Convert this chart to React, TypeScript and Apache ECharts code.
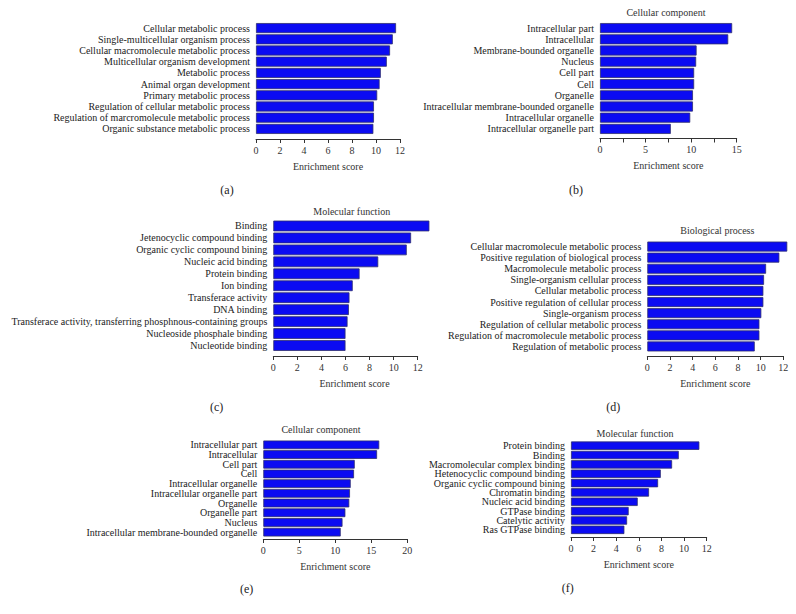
import React, { useEffect, useRef } from "react";
import * as echarts from "echarts";

// ---------- data ----------
const catsA = [
  "Cellular metabolic process",
  "Single-multicellular organism process",
  "Cellular macromolecule metabolic process",
  "Multicellular organism development",
  "Metabolic process",
  "Animal organ development",
  "Primary metabolic process",
  "Regulation of cellular metabolic process",
  "Regulation of marcromolecule metabolic process",
  "Organic substance metabolic process",
];
const valsA = [11.67, 11.4, 11.17, 10.9, 10.4, 10.3, 10.1, 9.83, 9.83, 9.78];

const catsB = [
  "Intracellular part",
  "Intracellular",
  "Membrane-bounded organelle",
  "Nucleus",
  "Cell part",
  "Cell",
  "Organelle",
  "Intracellular membrane-bounded organelle",
  "Intracellular organelle",
  "Intracellular organelle part",
];
const valsB = [14.5, 14.07, 10.6, 10.55, 10.33, 10.33, 10.2, 10.2, 9.9, 7.77];

const catsC = [
  "Binding",
  "Jetenocyclic compound binding",
  "Organic cyclic compound bining",
  "Nucleic acid binding",
  "Protein binding",
  "Ion binding",
  "Transferace activity",
  "DNA binding",
  "Transferace activity, transferring phosphnous-containing groups",
  "Nucleoside phosphale binding",
  "Nucleotide binding",
];
const valsC = [12.97, 11.45, 11.09, 8.72, 7.17, 6.6, 6.33, 6.28, 6.17, 6.0, 6.0];

const catsD = [
  "Cellular macromolecule metabolic process",
  "Positive regulation of biological process",
  "Macromolecule metabolic process",
  "Single-organism cellular process",
  "Cellular metabolic process",
  "Positive regulation of cellular process",
  "Single-organism process",
  "Regulation of cellular metabolic process",
  "Regulation of macromolecule metabolic process",
  "Regulation of metabolic process",
];
const valsD = [12.35, 11.65, 10.48, 10.3, 10.24, 10.24, 10.06, 9.89, 9.89, 9.48];

const catsE = [
  "Intracellular part",
  "Intracellular",
  "Cell part",
  "Cell",
  "Intracellular organelle",
  "Intracellular organelle part",
  "Organelle",
  "Organelle part",
  "Nucleus",
  "Intracellular membrane-bounded organelle",
];
const valsE = [16.1, 15.8, 12.7, 12.6, 12.14, 12.04, 11.94, 11.4, 11.0, 10.75];

const catsF = [
  "Protein binding",
  "Binding",
  "Macromolecular complex binding",
  "Hetenocyclic compound binding",
  "Organic cyclic compound bining",
  "Chromatin binding",
  "Nucleic acid binding",
  "GTPase binding",
  "Catelytic activity",
  "Ras GTPase binding",
];
const valsF = [11.35, 9.53, 8.94, 7.94, 7.7, 6.9, 5.9, 5.1, 4.96, 4.72];

const titles = ["", "Cellular component", "Molecular function", "Biological process", "Cellular component", "Molecular function"];
const letters = ["(a)", "(b)", "(c)", "(d)", "(e)", "(f)"];
const axisMax = [12, 15, 12, 12, 20, 12];
const axisInterval = [2, 2.5, 2, 2, 5, 2];
const labelStep = [2, 5, 2, 2, 5, 2];
const axisTitle = "Enrichment score";

// ---------- layout ----------
const FONT = "Liberation Serif";
const layout = [
  { left: 256, width: 144, top: 22.5, height: 112, offset: 4.5, titleX: 0, titleY: 0, letterX: 227, letterY: 190, namePad: 0 },
  { left: 600, width: 136.7, top: 22.5, height: 112, offset: 4, titleX: 666, titleY: 12, letterX: 576, letterY: 190, namePad: 0 },
  { left: 273.3, width: 144.4, top: 220, height: 131.5, offset: 4.5, titleX: 351.7, titleY: 211, letterX: 216.7, letterY: 407, namePad: 18 },
  { left: 647.3, width: 136, top: 241, height: 111, offset: 4, titleX: 717.3, titleY: 230.7, letterX: 613.3, letterY: 407, namePad: 0 },
  { left: 263.3, width: 144, top: 440, height: 97, offset: 2, titleX: 321, titleY: 429, letterX: 246.7, letterY: 589, namePad: 0 },
  { left: 571, width: 135.7, top: 441, height: 93.5, offset: 2.5, titleX: 635, titleY: 433, letterX: 567.7, letterY: 588, namePad: 0 },
];

export default function App() {
  const ref = useRef<HTMLDivElement>(null);
  useEffect(() => {
    if (!ref.current) return;
    const chart = echarts.init(ref.current, null, { renderer: "svg" });
    const cats = [catsA, catsB, catsC, catsD, catsE, catsF];
    const vals = [valsA, valsB, valsC, valsD, valsE, valsF];

    const grid = layout.map((l) => ({ left: l.left, top: l.top, width: l.width, height: l.height, containLabel: false }));
    const xAxis = layout.map((l, i) => ({
      type: "value",
      gridIndex: i,
      min: 0,
      max: axisMax[i],
      interval: axisInterval[i],
      offset: l.offset,
      axisLine: { show: true, lineStyle: { color: "#333", width: 1 } },
      axisTick: { show: true, length: 4, lineStyle: { color: "#333" } },
      splitLine: { show: false },
      axisLabel: {
        color: "#333",
        fontSize: 10,
        fontFamily: FONT,
        margin: 6,
        formatter: (v: number) => (Math.abs(v % labelStep[i]) < 1e-6 ? String(v) : ""),
      },
      name: axisTitle,
      nameLocation: "middle",
      nameGap: 22,
      nameTextStyle: { color: "#333", fontSize: 10, fontFamily: FONT, padding: [0, 0, 0, l.namePad] },
    }));
    const yAxis = layout.map((l, i) => ({
      type: "category",
      gridIndex: i,
      data: cats[i],
      inverse: true,
      axisLine: { show: false },
      axisTick: { show: false },
      splitLine: { show: false },
      axisLabel: { color: "#222", fontSize: 10, fontFamily: FONT, margin: 6, interval: 0 },
    }));
    const series = layout.map((_, i) => ({
      type: "bar",
      xAxisIndex: i,
      yAxisIndex: i,
      data: vals[i],
      barCategoryGap: "10%",
      clip: false,
      itemStyle: { color: "#0b0bf2", borderColor: "#2e2e6e", borderWidth: 0.8 },
    }));
    const graphic: any[] = [];
    layout.forEach((l, i) => {
      if (titles[i]) {
        graphic.push({
          type: "text",
          x: l.titleX,
          y: l.titleY,
          style: {
            text: titles[i],
            fill: "#333",
            fontSize: 10,
            fontFamily: FONT,
            textAlign: "center",
            textVerticalAlign: "middle",
          },
        });
      }
      graphic.push({
        type: "text",
        x: l.letterX,
        y: l.letterY,
        style: {
          text: letters[i],
          fill: "#222",
          fontSize: 12,
          fontFamily: FONT,
          textAlign: "center",
          textVerticalAlign: "middle",
        },
      });
    });

    chart.setOption({
      animation: false,
      backgroundColor: "#ffffff",
      grid,
      xAxis,
      yAxis,
      series,
      graphic,
    });
    return () => chart.dispose();
  }, []);
  return <div ref={ref} style={{ position: "fixed", left: 0, top: 0, width: 796, height: 614, background: "#fff" }} />;
}
